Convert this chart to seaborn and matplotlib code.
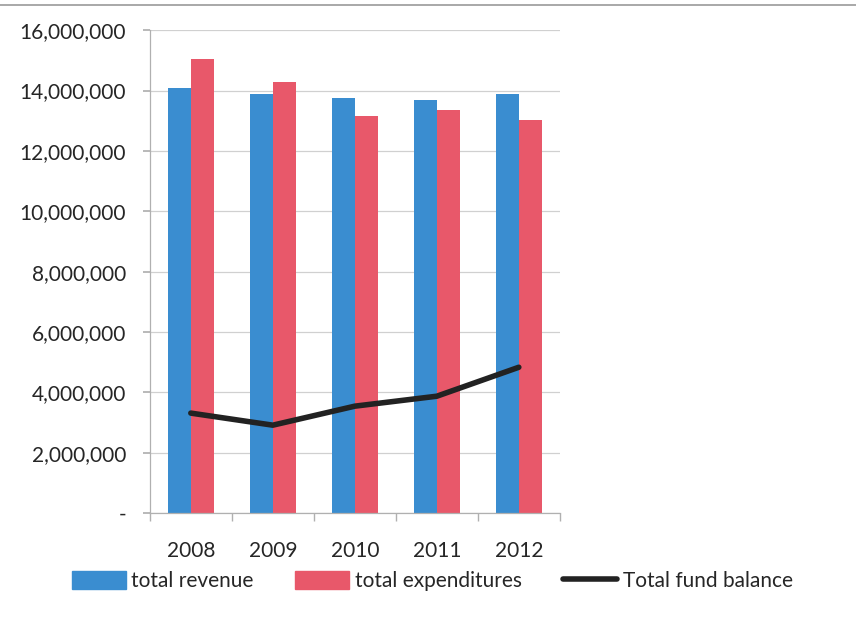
import pandas as pd
import numpy as np
import matplotlib
matplotlib.use("Agg")
import matplotlib.pyplot as plt
import matplotlib.ticker as mticker
from matplotlib.patches import Patch
from matplotlib.lines import Line2D
import seaborn as sns

# === data ===
years = ["2008", "2009", "2010", "2011", "2012"]
total_revenue = [14100000, 13870000, 13740000, 13680000, 13900000]
total_expenditures = [15030000, 14270000, 13150000, 13350000, 13010000]
total_fund_balance = [3310000, 2910000, 3540000, 3870000, 4830000]
series_names = ["total revenue", "total expenditures"]

blue = "#3a8dd0"
red = "#e8586a"

sns.set_theme(style="white")
plt.rcParams['font.family'] = ['Lato', 'DejaVu Sans']

bars = pd.DataFrame({
    "year": years * 2,
    "series": [series_names[0]] * 5 + [series_names[1]] * 5,
    "value": total_revenue + total_expenditures,
})

fig = plt.figure(figsize=(8.56, 6.17), dpi=100)
ax = fig.add_axes([0.175, 0.1686, 0.479, 0.7824])

sns.barplot(data=bars, x="year", y="value", hue="series",
            palette=[blue, red], width=0.56, saturation=1, linewidth=0,
            ax=ax, legend=False)
sns.lineplot(x=np.arange(len(years)), y=total_fund_balance, color="#222222",
             linewidth=4, ax=ax, legend=False)

ax.set_xlim(-0.5, len(years) - 0.5)
ax.set_ylim(0, 16000000)
ax.set_yticks(np.arange(0, 16000001, 2000000))
ax.yaxis.set_major_formatter(mticker.FuncFormatter(
    lambda v, p: "-" if v == 0 else f"{int(v):,}"))
ax.set_xlabel("")
ax.set_ylabel("")
ax.grid(axis="y", color="#d0d0d0", linewidth=0.9)
ax.set_axisbelow(True)

for s in ["top", "right"]:
    ax.spines[s].set_visible(False)
for s in ["left", "bottom"]:
    ax.spines[s].set_color("#b0b0b0")
    ax.spines[s].set_linewidth(0.9)

ax.tick_params(axis="y", labelsize=15, length=5, color="#b0b0b0",
               left=True, pad=12)
ax.tick_params(axis="x", labelsize=15, length=0, pad=20)
ax.set_xticks(np.arange(-0.5, len(years), 1.0), minor=True)
ax.tick_params(axis="x", which="minor", length=6, color="#b0b0b0",
               bottom=True, direction="out")

# scan border line at the top
fig.add_artist(Line2D([0, 1], [0.992, 0.992], color="#9a9a9a",
                      linewidth=1.2, transform=fig.transFigure))

handles = [Patch(color=blue, label=series_names[0]),
           Patch(color=red, label=series_names[1]),
           Line2D([0], [0], color="#222222", linewidth=4,
                  solid_capstyle="round", label="Total fund balance")]
fig.legend(handles=handles, loc="center", bbox_to_anchor=(0.505, 0.058),
           ncol=3, frameon=False, fontsize=15, handlelength=2.6,
           handleheight=0.9, handletextpad=0.25, columnspacing=2.0)

fig.savefig("out.png", dpi=100)
